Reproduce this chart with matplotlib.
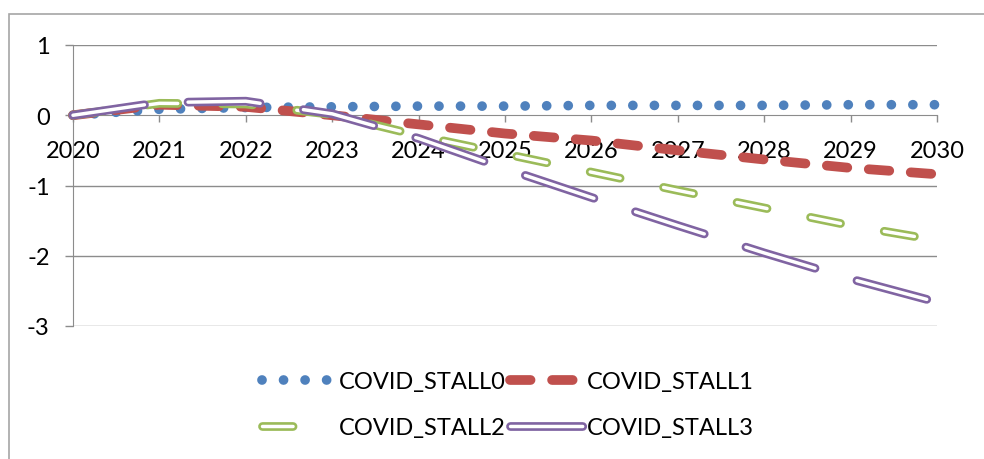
import matplotlib
matplotlib.use('Agg')
import matplotlib.pyplot as plt
from matplotlib.patches import Rectangle
from matplotlib.legend_handler import HandlerTuple

years = [2020, 2021, 2022, 2023, 2024, 2025, 2026, 2027, 2028, 2029, 2030]
stall0 = [0.0, 0.085, 0.11, 0.12, 0.13, 0.13, 0.14, 0.14, 0.14, 0.15, 0.15]
stall1 = [0.0, 0.15, 0.12, 0.0, -0.13, -0.26, -0.36, -0.5, -0.63, -0.75, -0.84]
stall2 = [0.0, 0.17, 0.16, 0.01, -0.29, -0.55, -0.81, -1.07, -1.32, -1.57, -1.78]
stall3 = [0.0, 0.18, 0.2, 0.02, -0.33, -0.76, -1.17, -1.57, -1.96, -2.33, -2.66]
names = ['COVID_STALL0', 'COVID_STALL1', 'COVID_STALL2', 'COVID_STALL3']
yticks = [1, 0, -1, -2, -3]

plt.rcParams['font.family'] = ['Lato', 'DejaVu Sans']
plt.rcParams['axes.unicode_minus'] = False
plt.rcParams['lines.scale_dashes'] = False  # dash lengths in points

grey = '#8c8c8c'

fig = plt.figure(figsize=(9.84, 4.6), dpi=100)
ax = fig.add_axes([73 / 984, 1 - 327 / 460, 864 / 984, 281 / 460])

# series
l0, = ax.plot(years, stall0, color='#4f81bd', lw=7, ls=(0, (0.01, 15.5)),
              dash_capstyle='round', clip_on=False, zorder=3)
l1, = ax.plot(years, stall1, color='#c0504d', lw=7, ls=(0, (14.8, 15.5)),
              dash_capstyle='round', solid_joinstyle='round', clip_on=False, zorder=4)
g_out, = ax.plot(years, stall2, color='#9bbb59', lw=6.3, ls=(0, (22, 32)),
                 dash_capstyle='round', clip_on=False, zorder=5)
g_in, = ax.plot(years, stall2, color='white', lw=2.5, ls=(0, (22, 32)),
                dash_capstyle='round', clip_on=False, zorder=6)
p_out, = ax.plot(years, stall3, color='#8064a2', lw=6.3, ls=(0, (52, 31.5)),
                 dash_capstyle='round', clip_on=False, zorder=7)
p_in, = ax.plot(years, stall3, color='white', lw=2.5, ls=(0, (52, 31.5)),
                dash_capstyle='round', clip_on=False, zorder=8)

ax.set_xlim(2020, 2030)
ax.set_ylim(-3, 1)
ax.set_xticks(years)
ax.set_yticks(yticks)
ax.set_yticklabels([str(v) for v in yticks])

for y in [1, -1, -2, -3]:
    ax.axhline(y, color=grey, lw=1.0, zorder=1)

for s in ['top', 'right']:
    ax.spines[s].set_visible(False)
ax.spines['bottom'].set_position(('data', 0))
ax.spines['bottom'].set_color(grey)
ax.spines['left'].set_color(grey)
ax.spines['bottom'].set_zorder(1)
ax.spines['left'].set_zorder(1)

ax.tick_params(axis='x', direction='out', length=5, width=1, color=grey,
               labelsize=17, pad=13)
ax.tick_params(axis='y', direction='out', length=5.8, width=1, color=grey,
               labelsize=17, pad=11)

# row-wise order like the original (matplotlib fills legend columns first)
handles = [l0, (g_out, g_in), l1, (p_out, p_in)]
labels = [names[0], names[2], names[1], names[3]]
leg = fig.legend(handles, labels,
                 handler_map={tuple: HandlerTuple(ndivide=1)},
                 loc='center', bbox_to_anchor=(0.516, 0.118), ncol=2,
                 frameon=False, fontsize=17, handlelength=3.1,
                 handletextpad=0.15, columnspacing=0.2, labelspacing=1.05)

# outer chart border
fig.add_artist(Rectangle((9 / 984, -0.1), 1.2, 1 - 15 / 460 + 0.1,
                         transform=fig.transFigure, fill=False,
                         ec='#a6a6a6', lw=1.2))

plt.savefig('out.png', dpi=100)
